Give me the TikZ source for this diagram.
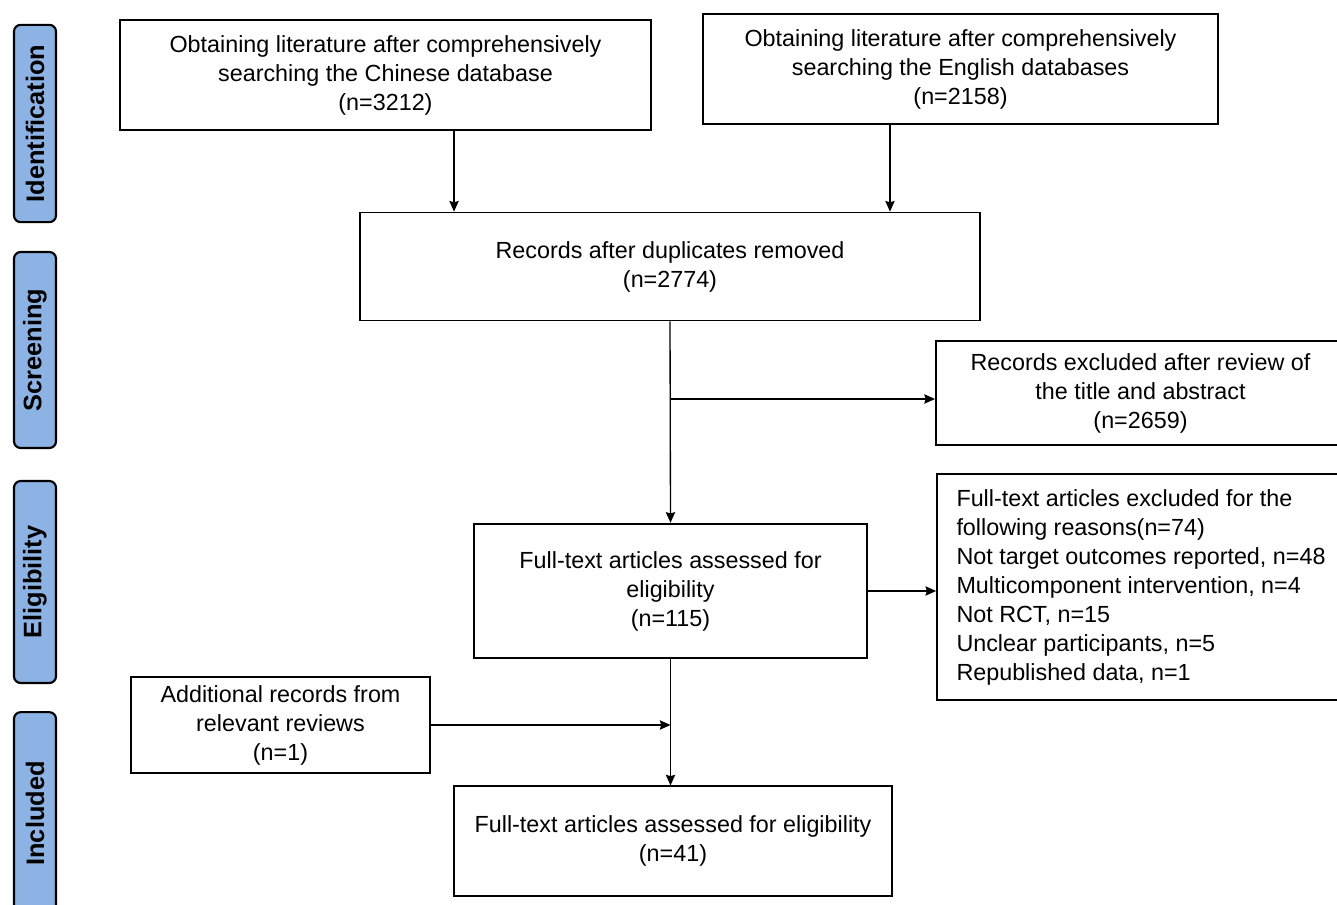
\documentclass[tikz,border=0pt]{standalone}
\usepackage{fontspec}
\setmainfont{Liberation Sans}
\usetikzlibrary{arrows.meta}
\definecolor{tabblue}{RGB}{141,178,228}
\begin{document}
\begin{tikzpicture}[x=0.75pt,y=-0.75pt]
    \tikzstyle{arrow} = [line width=1pt,->,>={Stealth[length=8pt,width=7pt,inset=1pt]}]
    \tikzstyle{box} = [draw, line width=1.3pt, align=center, inner sep=0pt, font=\fontsize{17.5}{21.75}\selectfont]
    \tikzstyle{tab} = [draw, line width=1.6pt, rounded corners=5pt, fill=tabblue, rotate=90, minimum height=31.5pt, inner sep=0pt, font=\fontsize{19}{22}\selectfont\bfseries]
    \clip (0,0) rectangle (1337,905);

    % Phase tabs
    \node [tab, minimum width=148pt] (TabId) at (35,123.5) {Identification};
    \node [tab, minimum width=147pt] (TabScr) at (35,350) {Screening};
    \node [tab, minimum width=151.5pt] (TabElig) at (35,582) {Eligibility};
    \node [tab, minimum width=152pt] (TabIncl) at (35,813.5) {Included};

    % Chinese search
    \node [box, minimum width=398pt, minimum height=83pt] (Chinese) at (385.5,75) {Obtaining literature after comprehensively\\searching the Chinese database\\(n=3212)};

    % English search
    \node [box, minimum width=386pt, minimum height=82.5pt] (English) at (960.5,69) {Obtaining literature after comprehensively\\searching the English databases\\(n=2158)};

    % Duplicates removed
    \node [box, minimum width=465pt, minimum height=81pt] (Dup) at (670,266.5) {Records after duplicates removed\\(n=2774)};
    \draw [arrow] ([xshift=51.4pt]Chinese.south) -- ([xshift=51.4pt]Chinese.south |- Dup.north);
    \draw [arrow] ([xshift=-52.9pt]English.south) -- ([xshift=-52.9pt]English.south |- Dup.north);

    % Excluded after title and abstract
    \node [box, minimum width=307pt, minimum height=78pt] (ExclTitle) at (1140.5,393) {Records excluded after review of\\the title and abstract\\(n=2659)};

    % Full-text assessed
    \node [box, minimum width=295pt, minimum height=101pt] (FullText) at (670.5,591) {Full-text articles assessed for\\eligibility\\(n=115)};
    \draw [arrow] (Dup.south) -- (FullText.north);
    \draw [arrow] ([yshift=-4.5pt]Dup.south |- ExclTitle.west) -- ([yshift=-4.5pt]ExclTitle.west);

    % Full-text excluded
    \node [box, align=left, minimum width=306pt, minimum height=170pt] (ExclFull) at (1141,587) {Full-text articles excluded for the\\following reasons(n=74)\\Not target outcomes reported, n=48\\Multicomponent intervention, n=4\\Not RCT, n=15\\Unclear participants, n=5\\Republished data, n=1};
    \draw [arrow] (FullText.east) -- (FullText.east -| ExclFull.west);

    % Additional records
    \node [box, minimum width=224pt, minimum height=72pt] (Additional) at (280.5,725) {Additional records from\\relevant reviews\\(n=1)};

    % Included studies
    \node [box, minimum width=328.5pt, minimum height=82pt] (Final) at (673,841) {Full-text articles assessed for eligibility\\(n=41)};
    \draw [arrow] (FullText.south) -- (FullText.south |- Final.north);
    \draw [arrow] (Additional.east) -- (Additional.east -| FullText.south);
\end{tikzpicture}
\end{document}
